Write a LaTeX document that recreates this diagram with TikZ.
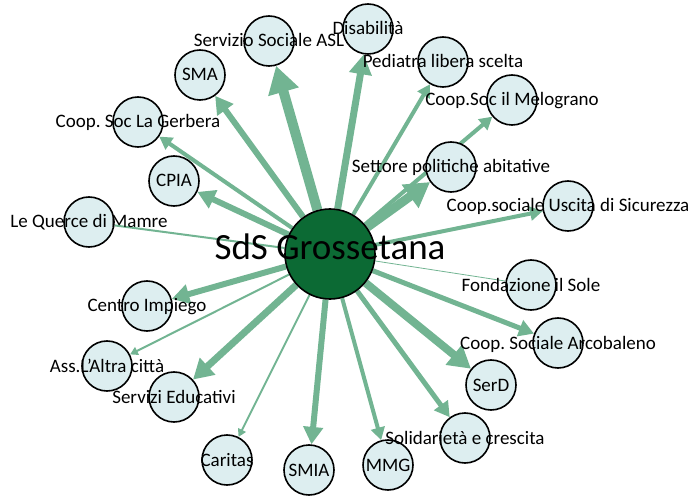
\documentclass[tikz,border=0pt]{standalone}
\usepackage{fontspec}
\setmainfont{Carlito}
\usetikzlibrary{
	arrows.meta
}
\definecolor{LinkGreen}{RGB}{114,180,146}
\definecolor{HubGreen}{RGB}{12,106,52}
\definecolor{ActorFill}{RGB}{221,238,240}
\pgfdeclarelayer{links}
\pgfsetlayers{links,main}
\frenchspacing

\begin{document}
\begin{tikzpicture}[x=1pt, y=-1pt, line cap=butt,
	actor/.style={circle, draw=black, line width=1.6pt, fill=ActorFill, minimum size=50pt, inner sep=0pt},
	hub/.style={circle, draw=black, line width=1.6pt, fill=HubGreen, minimum size=90pt, inner sep=0pt},
	lbl/.style={anchor=base, yshift=-6pt, inner sep=0pt, font=\fontsize{19}{22}\selectfont},
	link/.style={draw=LinkGreen, line width=#1pt, -{Triangle[length=3pt 2.4, width=3pt 2.7]}},
	plainlink/.style={draw=LinkGreen, line width=#1pt}]
	
	\useasboundingbox (0,0) rectangle (699,497);
	
	% -- Hub ------------------------------------------------------
	\node[hub] (sds) at (330,254) {};
	
	% -- Actors (clockwise from the top) --------------------------
	\node[actor] (asl)  at (269,41)  {};
	\node[actor] (dis)  at (368,29)  {};
	\node[actor] (ped)  at (443,62)  {};
	\node[actor] (mel)  at (512,100) {};
	\node[actor] (set)  at (451,167) {};
	\node[actor] (usc)  at (568,206) {};
	\node[actor] (fon)  at (531,285) {};
	\node[actor] (arc)  at (558,343) {};
	\node[actor] (serd) at (491,385) {};
	\node[actor] (sol)  at (465,438) {};
	\node[actor] (mmg)  at (388,465) {};
	\node[actor] (smia) at (309,470) {};
	\node[actor] (car)  at (227,460) {};
	\node[actor] (edu)  at (174,397) {};
	\node[actor] (alt)  at (107,366) {};
	\node[actor] (cen)  at (147,306) {};
	\node[actor] (que)  at (89,222)  {};
	\node[actor] (cpia) at (174,181) {};
	\node[actor] (ger)  at (138,122) {};
	\node[actor] (sma)  at (200,75)  {};
	
	% -- Links, weighted by line width ----------------------------
	\begin{pgfonlayer}{links}
		\foreach \n/\w in {asl/10, dis/7, ped/4, mel/4, set/9, usc/4, arc/5,
			serd/8, sol/5, mmg/4, smia/6, car/2, edu/7, alt/2, cen/6,
			cpia/6, ger/4, sma/6}{%
			\draw[link=\w] (sds) -- (\n);
		}
		\draw[plainlink=2] (sds) -- (que);
		\draw[plainlink=0.8] (sds) -- (fon);
	\end{pgfonlayer}
	
	% -- Labels (on top of the circles) ---------------------------
	\node[anchor=base, yshift=-6pt, font=\fontsize{37}{40}\selectfont] (sdsname) at (sds.center) {SdS Grossetana};
	\node[lbl] (lasl)  at (asl.center)  {Servizio Sociale ASL};
	\node[lbl] (ldis)  at (dis.center)  {Disabilità};
	\node[lbl] (lped)  at (ped.center)  {Pediatra libera scelta};
	\node[lbl] (lmel)  at (mel.center)  {Coop.Soc il Melograno};
	\node[lbl] (lset)  at (set.center)  {Settore politiche abitative};
	\node[lbl] (lusc)  at (usc.center)  {Coop.sociale Uscita di Sicurezza};
	\node[lbl] (lfon)  at (fon.center)  {Fondazione il Sole};
	\node[lbl] (larc)  at (arc.center)  {Coop. Sociale Arcobaleno};
	\node[lbl] (lserd) at (serd.center) {SerD};
	\node[lbl] (lsol)  at (sol.center)  {Solidarietà e crescita};
	\node[lbl] (lmmg)  at (mmg.center)  {MMG};
	\node[lbl] (lsmia) at (smia.center) {SMIA};
	\node[lbl] (lcar)  at (car.center)  {Caritas};
	\node[lbl] (ledu)  at (edu.center)  {Servizi Educativi};
	\node[lbl] (lalt)  at (alt.center)  {Ass.L'Altra città};
	\node[lbl] (lcen)  at (cen.center)  {Centro Impiego};
	\node[lbl] (lque)  at (que.center)  {Le Querce di Mamre};
	\node[lbl] (lcpia) at (cpia.center) {CPIA};
	\node[lbl] (lger)  at (ger.center)  {Coop. Soc La Gerbera};
	\node[lbl] (lsma)  at (sma.center)  {SMA};
	
\end{tikzpicture}
\end{document}
